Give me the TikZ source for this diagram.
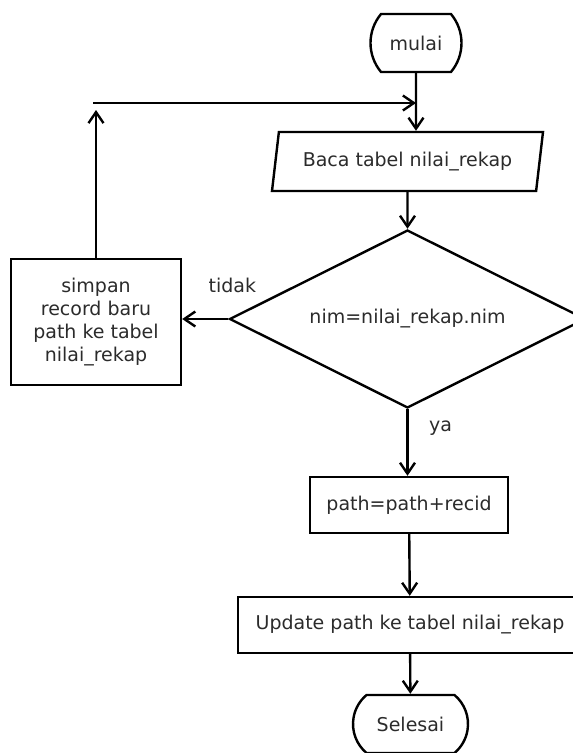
\documentclass[tikz,border=0pt]{standalone}
\usepackage{fontspec}
\setmainfont{DejaVu Sans}
\usetikzlibrary{shapes.geometric, shapes.misc, arrows.meta, positioning}
\definecolor{ink}{HTML}{000000}
\definecolor{inksoft}{HTML}{2B2B2B}
\tikzset{
  base/.style    = {draw=ink, line width=2.4pt, align=center, inner sep=0pt,
                    font=\fontsize{19}{23}\selectfont, text=inksoft},
  term/.style    = {base, rounded rectangle, rounded rectangle arc length=80,
                    minimum width=91pt, minimum height=58pt},
  io/.style      = {base, trapezium, trapezium left angle=70, trapezium right angle=110,
                    trapezium stretches body, minimum width=271pt, minimum height=59pt},
  decide/.style  = {base, diamond, shape aspect=2, minimum width=356pt, minimum height=178pt},
  proc/.style    = {base, rectangle, minimum height=56pt},
  flow/.style    = {-{Straight Barb[length=11pt, width=15pt, line width=2.4pt]}, draw=ink, line width=2.4pt},
  lbl/.style     = {font=\fontsize{19}{23}\selectfont, text=inksoft},
}

\begin{document}
\begin{tikzpicture}[x=1pt, y=-1pt]
  \useasboundingbox (0,0) rectangle (573,753);

  % main column
  \node[term] (mulai) at (416,43) {mulai};
  \node[io] (baca) at (407.5,161.5) {Baca tabel nilai\_rekap};
  \node[decide] (cek) at (407.5,319) {nim=nilai\_rekap.nim};
  \node[proc, minimum width=198pt] (path) at (409,505) {path=path+recid};
  \node[proc, minimum width=344pt] (update) at (410,625) {Update path ke tabel nilai\_rekap};
  \node[term, minimum width=115pt, rounded rectangle arc length=100] (selesai) at (410.5,724) {Selesai};

  % loop back
  \node[proc, minimum width=170pt, minimum height=126pt] (simpan) at (96,322)
    {simpan\\record baru\\path ke tabel\\nilai\_rekap};
  \coordinate (naik) at (96,110);
  \coordinate (belok) at (93,103);

  \draw[flow] (mulai) -- (mulai.south |- baca.north);
  \draw[flow] (baca.south) -- (cek.north);
  \draw[flow] (cek.west) -- (cek.west -| simpan.east)
    node[lbl, at start, yshift=34pt, xshift=4pt] {tidak};
  \draw[flow] (simpan.north) -- (naik);
  \draw[flow] (belok) -- (belok -| mulai.south);
  \draw[flow] (cek.south) -- (cek.south |- path.north)
    node[lbl, pos=0.29, right=17pt] {ya};
  \draw[flow] (path) -- (update);
  \draw[flow] (update) -- (selesai);
\end{tikzpicture}
\end{document}
